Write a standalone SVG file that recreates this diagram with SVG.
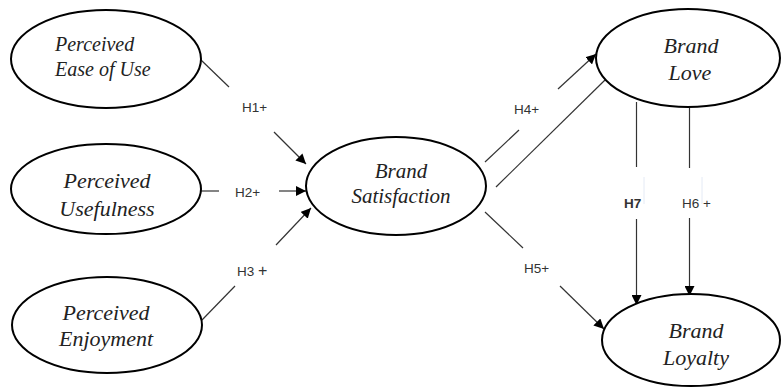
<svg xmlns="http://www.w3.org/2000/svg" width="782" height="389" viewBox="0 0 782 389">
<defs>
<marker id="ah" viewBox="0 0 10 10" refX="10" refY="5" markerWidth="10" markerHeight="10" markerUnits="userSpaceOnUse" orient="auto">
<path d="M0,0 L10,5 L0,10 z" fill="#000"/>
</marker>
<style>
.node ellipse{fill:#fff;stroke:#000;stroke-width:2}
.nt{font-family:'Liberation Serif',serif;font-style:italic;fill:#222;text-anchor:middle;font-size:22px}
.conn line{stroke:#333;stroke-width:1.2}
.arr{marker-end:url(#ah)}
.lbl{font-family:'Liberation Sans',sans-serif;font-size:13.5px;fill:#333}
.conn line.faint{stroke:#e4eaf5;stroke-width:1}
</style>
</defs>
<rect width="782" height="389" fill="#fff"/>
<g id="connectors" class="conn">
<line x1="201" y1="60" x2="229" y2="87"/>
<line class="arr" x1="274" y1="132" x2="306" y2="164"/>
<line x1="201" y1="191" x2="219" y2="191"/>
<line class="arr" x1="279" y1="191" x2="306" y2="191"/>
<line x1="202" y1="320" x2="235" y2="286"/>
<line class="arr" x1="276" y1="245" x2="311" y2="208"/>
<line x1="485" y1="162" x2="519" y2="130"/>
<line class="arr" x1="558" y1="89" x2="596" y2="54"/>
<line x1="496" y1="187" x2="605" y2="80"/>
<line x1="485" y1="212" x2="523" y2="248"/>
<line class="arr" x1="560" y1="286" x2="604" y2="329"/>
<line x1="636.5" y1="102" x2="636.5" y2="167"/>
<line class="arr" x1="636.5" y1="219" x2="636.5" y2="305"/>
<line x1="689.5" y1="108" x2="689.5" y2="168"/>
<line class="arr" x1="689.5" y1="218" x2="689.5" y2="296"/>
<line class="faint" x1="644" y1="177" x2="644" y2="204"/>
<line class="faint" x1="702" y1="177" x2="702" y2="204"/>
<text class="lbl" x="242" y="112">H1+</text>
<text class="lbl" x="235" y="197">H2+</text>
<text class="lbl" x="237" y="276">H3 <tspan font-size="16">+</tspan></text>
<text class="lbl" x="514" y="114">H4+</text>
<text class="lbl" x="524" y="273">H5+</text>
<text class="lbl" x="624" y="208" font-weight="bold" fill="#000">H7</text>
<text class="lbl" x="682" y="208">H6 +</text>
</g>
<g id="peou" class="node">
<ellipse cx="106" cy="59" rx="95" ry="49"/>
<text class="nt" x="55" y="51" style="text-anchor:start;font-size:20px">Perceived</text>
<text class="nt" x="55" y="76" style="text-anchor:start;font-size:20px">Ease of Use</text>
</g>
<g id="pu" class="node">
<ellipse cx="106" cy="189" rx="95" ry="45"/>
<text class="nt" x="107" y="188">Perceived</text>
<text class="nt" x="107" y="216">Usefulness</text>
</g>
<g id="pe" class="node">
<ellipse cx="107" cy="325" rx="95" ry="48"/>
<text class="nt" x="106" y="320">Perceived</text>
<text class="nt" x="106" y="346">Enjoyment</text>
</g>
<g id="bs" class="node">
<ellipse cx="396" cy="186" rx="90" ry="49"/>
<text class="nt" x="401" y="178" style="font-size:21px">Brand</text>
<text class="nt" x="401" y="203" style="font-size:21px">Satisfaction</text>
</g>
<g id="bl" class="node">
<ellipse cx="688" cy="58" rx="92" ry="49"/>
<text class="nt" x="691" y="53">Brand</text>
<text class="nt" x="690" y="80">Love</text>
</g>
<g id="by" class="node">
<ellipse cx="691" cy="340" rx="89" ry="46"/>
<text class="nt" x="696" y="338">Brand</text>
<text class="nt" x="696" y="365">Loyalty</text>
</g>
</svg>
